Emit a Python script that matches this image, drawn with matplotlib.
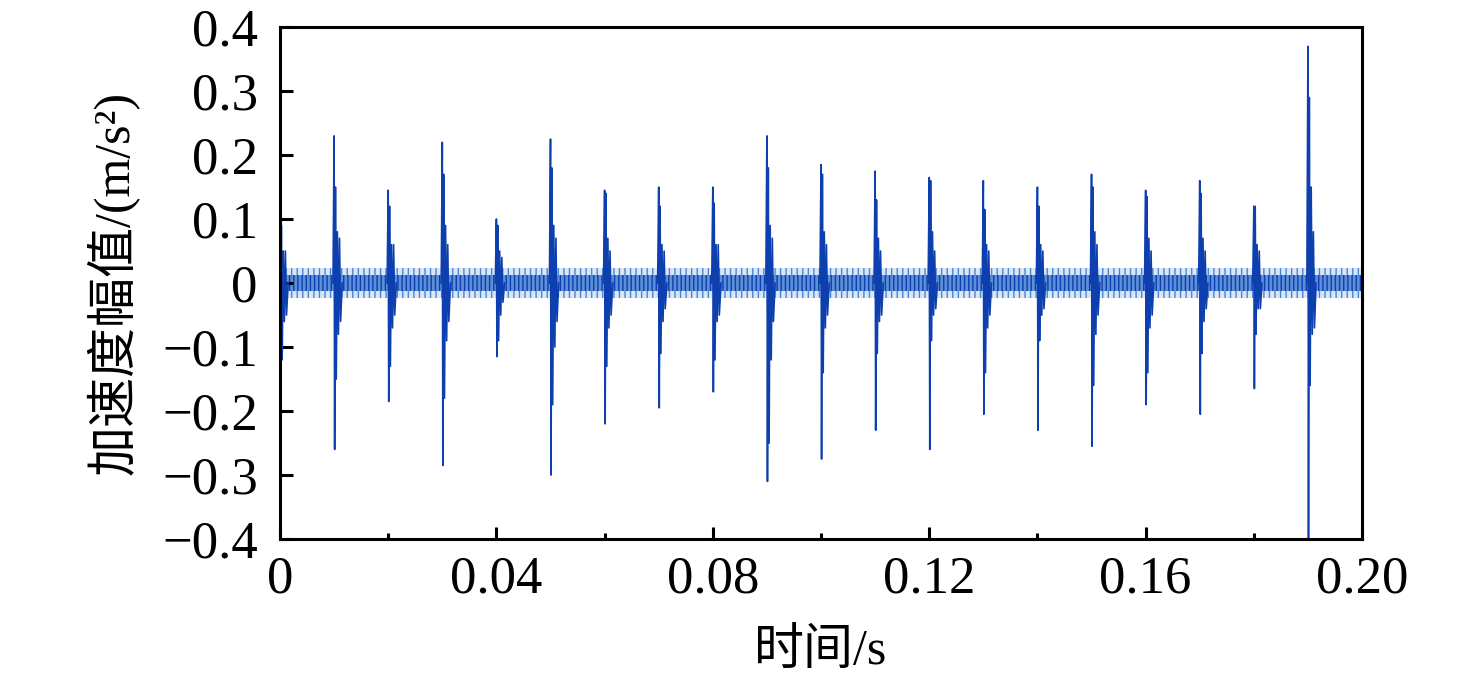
import numpy as np
import matplotlib
matplotlib.use('Agg')
import matplotlib.pyplot as plt

plt.rcParams['font.family'] = ['Liberation Serif', 'Noto Sans CJK SC']
plt.rcParams['axes.unicode_minus'] = True
plt.rcParams['hatch.linewidth'] = 1.0

# impact times (s) and amplitudes (m/s^2)
t_imp = [0.0, 0.01, 0.02, 0.03, 0.04, 0.05, 0.06, 0.07, 0.08, 0.09,
         0.10, 0.11, 0.12, 0.13, 0.14, 0.15, 0.16, 0.17, 0.18, 0.19]
peak_pos = [0.13, 0.23, 0.145, 0.22, 0.10, 0.225, 0.145, 0.15, 0.15, 0.23,
            0.185, 0.175, 0.165, 0.16, 0.15, 0.17, 0.145, 0.16, 0.12, 0.37]
peak_neg = [-0.19, -0.26, -0.185, -0.285, -0.115, -0.30, -0.22, -0.195, -0.17, -0.31,
            -0.275, -0.23, -0.26, -0.205, -0.23, -0.255, -0.19, -0.205, -0.165, -0.42]
ring_pos = [0.09, 0.15, 0.12, 0.17, 0.09, 0.18, 0.14, 0.12, 0.125, 0.18,
            0.17, 0.13, 0.16, 0.115, 0.12, 0.15, 0.135, 0.14, 0.12, 0.29]
ring_neg = [-0.12, -0.15, -0.13, -0.18, -0.09, -0.19, -0.13, -0.11, -0.12, -0.25,
            -0.14, -0.11, -0.09, -0.14, -0.09, -0.16, -0.14, -0.11, -0.08, -0.16]
mid_pos = [0.05, 0.08, 0.06, 0.09, 0.05, 0.09, 0.07, 0.06, 0.06, 0.09,
           0.08, 0.07, 0.08, 0.06, 0.06, 0.08, 0.07, 0.07, 0.06, 0.15]
mid_neg = [-0.06, -0.08, -0.07, -0.09, -0.05, -0.10, -0.07, -0.06, -0.06, -0.12,
           -0.07, -0.06, -0.05, -0.07, -0.05, -0.08, -0.07, -0.06, -0.04, -0.08]
tail_pos = [0.05, 0.07, 0.06, 0.06, 0.04, 0.07, 0.05, 0.05, 0.06, 0.07,
            0.06, 0.05, 0.05, 0.05, 0.05, 0.06, 0.05, 0.05, 0.05, 0.08]
tail_neg = [-0.05, -0.06, -0.05, -0.06, -0.03, -0.06, -0.05, -0.04, -0.05, -0.06,
            -0.05, -0.05, -0.04, -0.05, -0.04, -0.05, -0.05, -0.04, -0.04, -0.07]
noise_core = 0.013
noise_edge = 0.024
t_end = 0.20

# time offsets of the ring-down samples after each impact
ring_dt = [-0.0002, 0.0, 0.0001, 0.00025, 0.0004, 0.0006, 0.0008,
           0.0010, 0.0012, 0.0015]

tt, yy = [], []
for i in range(len(t_imp)):
    vals = [0.0, peak_pos[i], peak_neg[i], ring_pos[i], ring_neg[i],
            mid_pos[i], mid_neg[i], tail_pos[i], tail_neg[i], 0.0]
    tt += [t_imp[i] + d for d in ring_dt] + [np.nan]
    yy += vals + [np.nan]

fig = plt.figure(figsize=(14.76, 6.78), dpi=100)
ax = fig.add_axes([0.1897, 0.205, 0.7331, 0.755])

# background noise band
ax.fill_between([0, t_end], [-noise_edge, -noise_edge], [noise_edge, noise_edge],
                facecolor='#dbe6f6', edgecolor='#4a86d6', hatch='|||', lw=0)
ax.fill_between([0, t_end], [-noise_core, -noise_core], [noise_core, noise_core],
                facecolor='#5d8fd8', edgecolor='#0d3fae', hatch='||||', lw=0)
ax.plot(tt, yy, color='#0d3fae', lw=1.2)

ax.set_xlim(0, 0.20)
ax.set_ylim(-0.4, 0.4)
ax.set_xticks([0, 0.04, 0.08, 0.12, 0.16, 0.20])
ax.set_xticklabels(['0', '0.04', '0.08', '0.12', '0.16', '0.20'])
ax.set_xticks([0.02, 0.06, 0.10, 0.14, 0.18], minor=True)
ax.set_yticks([-0.4, -0.3, -0.2, -0.1, 0, 0.1, 0.2, 0.3, 0.4])
ax.set_yticklabels(['\u22120.4', '\u22120.3', '\u22120.2', '\u22120.1', '0',
                    '0.1', '0.2', '0.3', '0.4'])
ax.tick_params(axis='both', which='major', direction='in', length=9, width=2.2,
               labelsize=38, top=False, right=False)
ax.tick_params(axis='x', which='major', pad=12)
ax.tick_params(axis='y', which='major', pad=16)
ax.tick_params(axis='x', which='minor', direction='in', length=4.5, width=2.2,
               top=False)
for s in ax.spines.values():
    s.set_linewidth(2.2)

ax.set_xlabel('时间/s', fontsize=36, labelpad=18)
ax.set_ylabel('加速度幅值/(m/s²)', fontsize=36, labelpad=16)

fig.savefig('out.png', dpi=100)
